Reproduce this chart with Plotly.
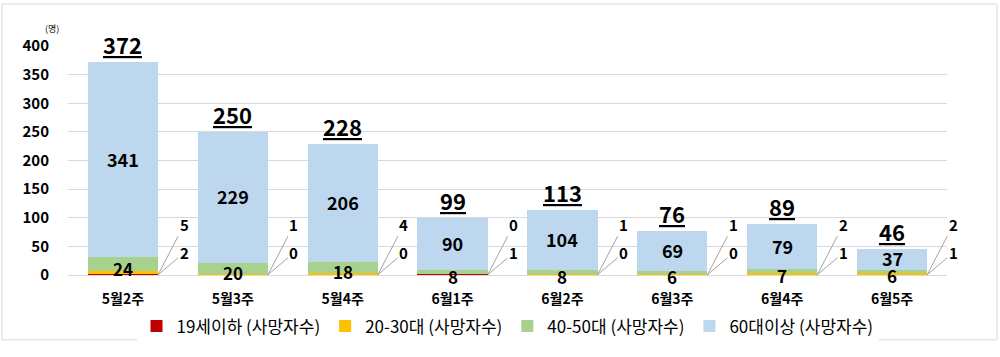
import plotly.graph_objects as go

categories = ["5월2주", "5월3주", "5월4주", "6월1주", "6월2주", "6월3주", "6월4주", "6월5주"]
under19 = [2, 0, 0, 1, 0, 0, 1, 1]
age20_30 = [5, 1, 4, 0, 1, 1, 2, 2]
age40_50 = [24, 20, 18, 8, 8, 6, 7, 6]
age60p = [341, 229, 206, 90, 104, 69, 79, 37]
totals = [a + b + c + d for a, b, c, d in zip(under19, age20_30, age40_50, age60p)]
series_names = ["19세이하 (사망자수)", "20-30대 (사망자수)", "40-50대 (사망자수)", "60대이상 (사망자수)"]
y_ticks = [0, 50, 100, 150, 200, 250, 300, 350, 400]

colors = ["#C00000", "#FFC000", "#A9D18E", "#BDD7EE"]
FONT = "Noto Sans CJK KR"
BW = 0.64
xs = list(range(len(categories)))

fig = go.Figure()
for name, vals, col in zip(series_names, [under19, age20_30, age40_50, age60p], colors):
    fig.add_trace(go.Bar(x=xs, y=vals, name=name, marker=dict(color=col, line=dict(width=0)),
                         width=BW))

annotations = []
for i in xs:
    base = under19[i] + age20_30[i]
    annotations.append(dict(x=i, y=base + age40_50[i] / 2, text=f"<b>{age40_50[i]}</b>",
                            showarrow=False, yshift=-4,
                            font=dict(family=FONT, size=17, color="#000"),
                            xref="x", yref="y"))
    base2 = base + age40_50[i]
    annotations.append(dict(x=i, y=base2 + age60p[i] / 2, text=f"<b>{age60p[i]}</b>",
                            showarrow=False, yshift=1,
                            font=dict(family=FONT, size=18, color="#000"),
                            xref="x", yref="y"))
    annotations.append(dict(x=i, y=totals[i], text=f"<b><u>{totals[i]}</u></b>",
                            showarrow=False, yanchor="bottom", yshift=0,
                            font=dict(family=FONT, size=22, color="#000"),
                            xref="x", yref="y"))
    for val, ay in [(age20_30[i], -50), (under19[i], -22)]:
        annotations.append(dict(x=i + BW / 2, y=0.5, text=f"<b>{val}</b>", showarrow=True,
                                arrowhead=0, arrowwidth=0.8, arrowcolor="#8C8C8C",
                                ax=26, ay=ay, standoff=0, startstandoff=0,
                                font=dict(family=FONT, size=15, color="#000"),
                                xref="x", yref="y"))

L, R, T, B = 68, 53, 46, 71
W, H = 1000, 357
pw, ph = W - L - R, H - T - B

annotations.append(dict(x=(52 - L) / pw, y=(H - B - 28) / ph, xref="paper", yref="paper",
                        text="(명)", showarrow=False, xanchor="center", yanchor="middle",
                        font=dict(family=FONT, size=9, color="#000")))

shapes = [dict(type="rect", xref="paper", yref="paper",
               x0=(2 - L) / pw, x1=(W - 3 - L) / pw,
               y0=(H - B - (H - 3)) / ph, y1=(H - B - 2) / ph,
               line=dict(color="#D9D9D9", width=1), fillcolor="rgba(0,0,0,0)", layer="below")]

fig.update_layout(
    width=W, height=H,
    margin=dict(l=L, r=R, t=T, b=B),
    barmode="stack",
    bargap=0,
    plot_bgcolor="white", paper_bgcolor="white",
    font=dict(family=FONT, color="#000"),
    xaxis=dict(tickmode="array", tickvals=xs, ticktext=[f"<b>{c}</b>" for c in categories],
               range=[-0.5, len(categories) - 0.5], showgrid=False, zeroline=False,
               showline=False, ticks="", tickfont=dict(family=FONT, size=14, color="#000"),
               ticklabelstandoff=14),
    yaxis=dict(range=[0, 400], tickmode="array", tickvals=y_ticks,
               ticktext=[f"<b>{v}</b>" for v in y_ticks],
               showgrid=True, gridcolor="#D9D9D9", gridwidth=1, zeroline=True,
               zerolinecolor="#D9D9D9", zerolinewidth=1, showline=False, ticks="",
               tickfont=dict(family=FONT, size=15, color="#000"), ticklabelstandoff=18),
    legend=dict(orientation="h", x=0.5, xanchor="center", y=-0.225, yanchor="middle",
                font=dict(family=FONT, size=17, color="#000"), itemwidth=30,
                traceorder="normal", tracegroupgap=0),
    annotations=annotations,
    shapes=shapes,
)

fig.write_html("out.html", config={"displayModeBar": False},
               post_script="document.body.style.margin='0';document.body.style.overflow='hidden';")
